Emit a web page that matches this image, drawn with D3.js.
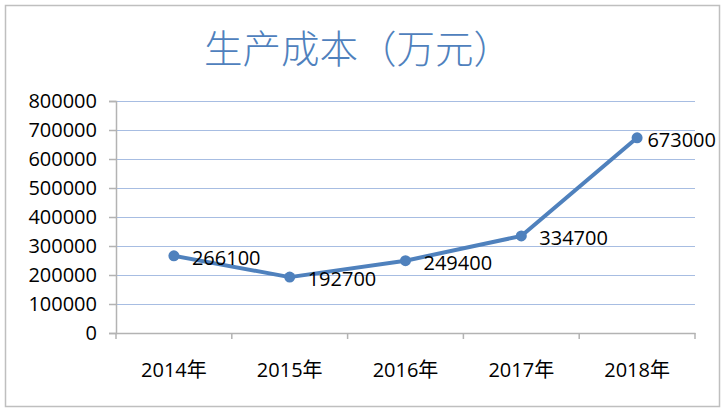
<!DOCTYPE html>
<html>
<head>
<meta charset="utf-8">
<script src="https://cdn.jsdelivr.net/npm/d3@7/dist/d3.min.js"></script>
<style>
  body { margin: 0; background: #fff; }
  text { font-family: "Open Sans", "Noto Sans CJK SC", sans-serif; }
</style>
</head>
<body>
<svg width="727" height="414"></svg>
<script>
// 生产成本（万元）
var years = ["2014年", "2015年", "2016年", "2017年", "2018年"];
var costs = [266100, 192700, 249400, 334700, 673000];
var yTicks = [0, 100000, 200000, 300000, 400000, 500000, 600000, 700000, 800000];

var svg = d3.select("svg"),
    width = +svg.attr("width"),
    height = +svg.attr("height");

var blue = "#4f81bd";

// chart frame
svg.append("rect")
    .attr("x", 5.5).attr("y", 5.5)
    .attr("width", 714).attr("height", 401)
    .attr("fill", "#fff")
    .attr("stroke", "#bfbfbf")
    .attr("stroke-width", 1.5);

svg.append("text")
    .attr("x", 358).attr("y", 63)
    .attr("text-anchor", "middle")
    .style("font-family", "'Noto Sans CJK SC', sans-serif")
    .style("font-weight", 300)
    .style("font-size", "38.5px")
    .attr("fill", blue)
    .text("生产成本（万元）");

var plotLeft = 116, plotRight = 695, plotTop = 101, plotBottom = 333;

var x = d3.scaleBand().domain(years).range([plotLeft, plotRight]);
var y = d3.scaleLinear().domain([0, 800000]).range([plotBottom, plotTop]);

// gridlines
svg.append("g")
  .selectAll("line")
  .data(yTicks.filter(function(d) { return d > 0; }))
  .enter().append("line")
    .attr("x1", plotLeft).attr("x2", plotRight)
    .attr("y1", function(d) { return Math.round(y(d)) + 0.5; })
    .attr("y2", function(d) { return Math.round(y(d)) + 0.5; })
    .attr("stroke", "#a7bde2")
    .attr("stroke-width", 1.2);

// y axis
var yAxis = svg.append("g")
    .attr("transform", "translate(" + plotLeft + ",0)")
    .call(d3.axisLeft(y).tickValues(yTicks).tickSize(7).tickPadding(12).tickFormat(d3.format("d")));
yAxis.select(".domain").attr("stroke", "#b3b3b3").attr("stroke-width", 1.5);
yAxis.selectAll(".tick line").attr("stroke", "#b3b3b3").attr("stroke-width", 1.5);
yAxis.selectAll("text").style("font-size", "20px").attr("fill", "#000");

// x axis
var xAxis = svg.append("g")
    .attr("transform", "translate(0," + plotBottom + ")")
    .call(d3.axisBottom(x).tickSize(0).tickPadding(30));
xAxis.select(".domain").attr("stroke", "#b3b3b3").attr("stroke-width", 1.5);
xAxis.selectAll("text").style("font-size", "20px").attr("fill", "#000");

// category separators
svg.append("g")
  .selectAll("line")
  .data(years.concat([null]))
  .enter().append("line")
    .attr("x1", function(d, i) { return plotLeft + i * x.step(); })
    .attr("x2", function(d, i) { return plotLeft + i * x.step(); })
    .attr("y1", plotBottom).attr("y2", plotBottom + 6)
    .attr("stroke", "#b3b3b3")
    .attr("stroke-width", 1.5);

var cx = function(d, i) { return x(years[i]) + x.bandwidth() / 2; };

svg.append("path")
    .datum(costs)
    .attr("fill", "none")
    .attr("stroke", blue)
    .attr("stroke-width", 4)
    .attr("stroke-linejoin", "round")
    .attr("d", d3.line().x(cx).y(function(d) { return y(d); }));

svg.append("g")
  .selectAll("circle")
  .data(costs)
  .enter().append("circle")
    .attr("cx", cx)
    .attr("cy", function(d) { return y(d); })
    .attr("r", 5.5)
    .attr("fill", blue);

// data labels, right of point, kept inside the frame
svg.append("g")
  .selectAll("text")
  .data(costs)
  .enter().append("text")
    .style("font-size", "20px")
    .attr("fill", "#000")
    .attr("dy", "0.36em")
    .attr("y", function(d) { return y(d) + 2; })
    .text(function(d) { return d; })
    .attr("x", function(d, i) {
      var w = this.getComputedTextLength();
      return Math.min(cx(d, i) + 18, 716 - w);
    });
</script>
</body>
</html>
